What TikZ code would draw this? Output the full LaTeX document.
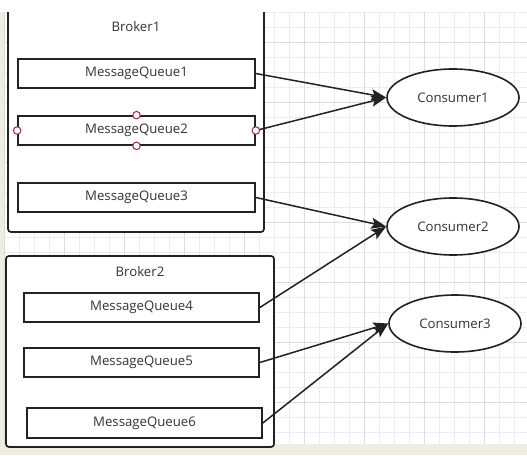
\documentclass[tikz,border=0pt]{standalone}
\usepackage{fontspec}
\setmainfont{Open Sans}
\usetikzlibrary{shapes.geometric,arrows.meta}
\definecolor{ink}{HTML}{222222}
\definecolor{txt}{HTML}{333333}
\definecolor{gridminor}{HTML}{EDEDED}
\definecolor{gridmajor}{HTML}{DDDDDD}
\definecolor{pageedge}{HTML}{EFECE3}
\definecolor{handle}{HTML}{9B2B35}
\tikzset{
  qbox/.style={draw=ink, line width=1.7pt, fill=white, inner sep=0pt, minimum height=29pt, font=\fontsize{13.2}{15}\selectfont, text=txt},
  brokerbox/.style={draw=ink, line width=1.7pt, rounded corners=3pt, inner sep=0pt},
  cons/.style={ellipse, draw=ink, line width=1.6pt, fill=white, inner sep=0pt, minimum width=132pt, minimum height=57pt, font=\fontsize{13.2}{15}\selectfont, text=txt},
  lbl/.style={inner sep=0pt, font=\fontsize{13.2}{15}\selectfont, text=txt},
  flow/.style={draw=ink, line width=1.5pt, -{Stealth[length=15pt,width=11pt,inset=3pt]}},
  hdl/.style={circle, draw=handle, line width=1pt, fill=white, inner sep=0pt, minimum size=7.5pt}
}
\begin{document}
\begin{tikzpicture}[x=1pt,y=-1pt]
\useasboundingbox (0,0) rectangle (527,455);
\fill[white] (0,0) rectangle (527,455);
% page edge strips
\fill[pageedge] (0,444) rectangle (527,455);
\fill[pageedge] (0,12) rectangle (4,444);
% grid
\foreach \k in {0,...,34} {
  \pgfmathsetmacro{\gx}{4.3+15*\k}
  \draw[gridminor, line width=0.8pt] (\gx,12) -- (\gx,444);
}
\foreach \k in {0,...,28} {
  \pgfmathsetmacro{\gy}{12.3+15*\k}
  \draw[gridminor, line width=0.8pt] (4.3,\gy) -- (527,\gy);
}
\foreach \k in {0,...,8} {
  \pgfmathsetmacro{\gx}{4.3+60*\k}
  \draw[gridmajor, line width=0.8pt] (\gx,12) -- (\gx,444);
}
\foreach \k in {0,...,6} {
  \pgfmathsetmacro{\gy}{42.3+60*\k}
  \draw[gridmajor, line width=0.8pt] (4.3,\gy) -- (527,\gy);
}
% brokers
\begin{scope}
\clip (0,12) rectangle (527,455);
\node[brokerbox, fill=white, minimum width=256pt, minimum height=252pt] (b1) at (136,106) {};
\end{scope}
\node[brokerbox, fill=white, minimum width=268pt, minimum height=191pt] (b2) at (140,351.5) {};
\node[lbl] (b1l) at (136,27) {Broker1};
\node[lbl] (b2l) at (140,272) {Broker2};
% queues
\node[qbox, minimum width=237pt] (q1) at (136.5,73.5) {MessageQueue1};
\node[qbox, minimum width=237pt] (q2) at (136.5,130.5) {MessageQueue2};
\node[qbox, minimum width=237pt] (q3) at (136.5,197.5) {MessageQueue3};
\node[qbox, minimum width=235pt] (q4) at (141.5,307.5) {MessageQueue4};
\node[qbox, minimum width=235pt] (q5) at (141.5,362.5) {MessageQueue5};
\node[qbox, minimum width=235pt, minimum height=30pt] (q6) at (144.5,423) {MessageQueue6};
% consumers
\node[cons] (c1) at (453,97.5) {Consumer1};
\node[cons] (c2) at (453,226.5) {Consumer2};
\node[cons] (c3) at (455,323.5) {Consumer3};
% connectors
\draw[flow] (q1.east) -- (c1.west);
\draw[flow] (q2.east) -- (c1.west);
\draw[flow] (q3.east) -- (c2.west);
\draw[flow] (q4.east) -- (c2.west);
\draw[flow] (q5.east) -- (c3.west);
\draw[flow] (q6.east) -- (c3.west);
% selection handles
\node[hdl] (h1) at (q2.north) {};
\node[hdl] (h2) at (q2.south) {};
\node[hdl] (h3) at (q2.west) {};
\node[hdl] (h4) at (q2.east) {};
\end{tikzpicture}
\end{document}
